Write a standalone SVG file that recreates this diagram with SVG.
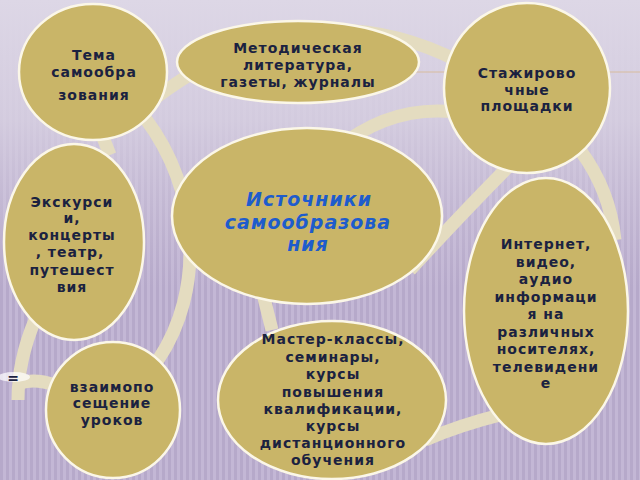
<svg xmlns="http://www.w3.org/2000/svg" width="640" height="480" viewBox="0 0 640 480">
<defs>
<pattern id="stripes" width="6" height="10" patternUnits="userSpaceOnUse">
<rect x="0" y="0" width="3" height="10" fill="#a393b8" opacity="0.4"/>
</pattern>
<linearGradient id="fade" x1="0" y1="0" x2="0" y2="1">
<stop offset="0" stop-color="#ddd7e6" stop-opacity="1"/>
<stop offset="0.25" stop-color="#d8d1e2" stop-opacity="0.85"/>
<stop offset="0.6" stop-color="#d0c7dc" stop-opacity="0"/>
</linearGradient>
<style>
.band{fill:none;stroke:#e4dcc0;stroke-width:13;stroke-linecap:butt}
.node{fill:#c9b568;stroke:#fbf7e8;stroke-width:2.5}
.t{font-family:"DejaVu Sans",Verdana,sans-serif;font-weight:bold;font-size:14px;fill:#1b2240;text-anchor:middle;letter-spacing:1px}
.c{font-family:"DejaVu Sans",Verdana,sans-serif;font-weight:bold;font-style:italic;font-size:19px;fill:#1e5ccc;text-anchor:middle;letter-spacing:1px}
</style>
</defs>
<rect x="0" y="0" width="640" height="480" fill="#c3b7d5"/>
<rect x="0" y="0" width="640" height="480" fill="url(#stripes)"/>
<rect x="0" y="0" width="640" height="480" fill="url(#fade)"/>
<line x1="300" y1="72" x2="640" y2="72" stroke="#d9b88e" stroke-width="1" opacity="0.8"/>

<g id="connectors">
<path class="band" d="M140,110 Q300,-20 460,62"/>
<path class="band" d="M145,118 C200,190 205,290 158,360"/>
<path class="band" d="M335,150 Q390,105 455,112"/>
<path class="band" d="M515,160 Q470,205 410,270"/>
<path class="band" d="M580,150 Q610,190 615,240"/>
<path class="band" d="M262,290 L272,330"/>
<path class="band" d="M425,440 Q460,425 500,415"/>
<path class="band" d="M35,320 Q18,360 18,400"/>
<path class="band" d="M20,383 Q35,378 55,385"/>
<path class="band" d="M100,130 L110,155"/>
</g>

<g id="node-tema">
<ellipse class="node" cx="93" cy="72" rx="74" ry="68"/>
<text class="t" x="94" y="60">Тема</text>
<text class="t" x="94" y="77">самообра</text>
<text class="t" x="94" y="100">зования</text>
</g>

<g id="node-metod">
<ellipse class="node" cx="298" cy="62" rx="121" ry="41"/>
<text class="t" x="298" y="53">Методическая</text>
<text class="t" x="298" y="70">литература,</text>
<text class="t" x="298" y="87">газеты, журналы</text>
</g>

<g id="node-stazh">
<ellipse class="node" cx="527" cy="88" rx="83" ry="85"/>
<text class="t" x="527" y="78">Стажирово</text>
<text class="t" x="527" y="95">чные</text>
<text class="t" x="527" y="111">площадки</text>
</g>

<g id="node-ekskursii">
<ellipse class="node" cx="74" cy="242" rx="70" ry="98"/>
<text class="t" x="72" y="207">Экскурси</text>
<text class="t" x="72" y="223">и,</text>
<text class="t" x="72" y="240">концерты</text>
<text class="t" x="70" y="257">, театр,</text>
<text class="t" x="72" y="275">путешест</text>
<text class="t" x="72" y="292">вия</text>
</g>

<g id="node-center">
<ellipse class="node" cx="307" cy="216" rx="135" ry="88"/>
<text class="c" x="309" y="206">Источники</text>
<text class="c" x="308" y="229">самообразова</text>
<text class="c" x="308" y="251">ния</text>
</g>

<g id="node-internet">
<ellipse class="node" cx="546" cy="311" rx="82" ry="133"/>
<text class="t" x="546" y="249">Интернет,</text>
<text class="t" x="546" y="267">видео,</text>
<text class="t" x="546" y="284">аудио</text>
<text class="t" x="546" y="302">информаци</text>
<text class="t" x="546" y="319">я на</text>
<text class="t" x="546" y="337">различных</text>
<text class="t" x="546" y="354">носителях,</text>
<text class="t" x="546" y="372">телевидени</text>
<text class="t" x="546" y="388">е</text>
</g>

<g id="node-vzaimo">
<ellipse class="node" cx="113" cy="410" rx="67" ry="68"/>
<text class="t" x="112" y="392">взаимопо</text>
<text class="t" x="112" y="408">сещение</text>
<text class="t" x="112" y="425">уроков</text>
</g>

<g id="node-master">
<ellipse class="node" cx="332" cy="400" rx="114" ry="79"/>
<text class="t" x="333" y="344">Мастер-классы,</text>
<text class="t" x="333" y="362">семинары,</text>
<text class="t" x="333" y="379">курсы</text>
<text class="t" x="333" y="397">повышения</text>
<text class="t" x="333" y="414">квалификации,</text>
<text class="t" x="333" y="431">курсы</text>
<text class="t" x="333" y="448">дистанционного</text>
<text class="t" x="333" y="465">обучения</text>
</g>

<g id="mark">
<ellipse cx="14" cy="377" rx="16" ry="5" fill="#ffffff" opacity="0.7"/>
<text x="13" y="383" font-family="DejaVu Sans,sans-serif" font-weight="bold" font-size="14" fill="#1b2240" text-anchor="middle">=</text>
</g>
</svg>
